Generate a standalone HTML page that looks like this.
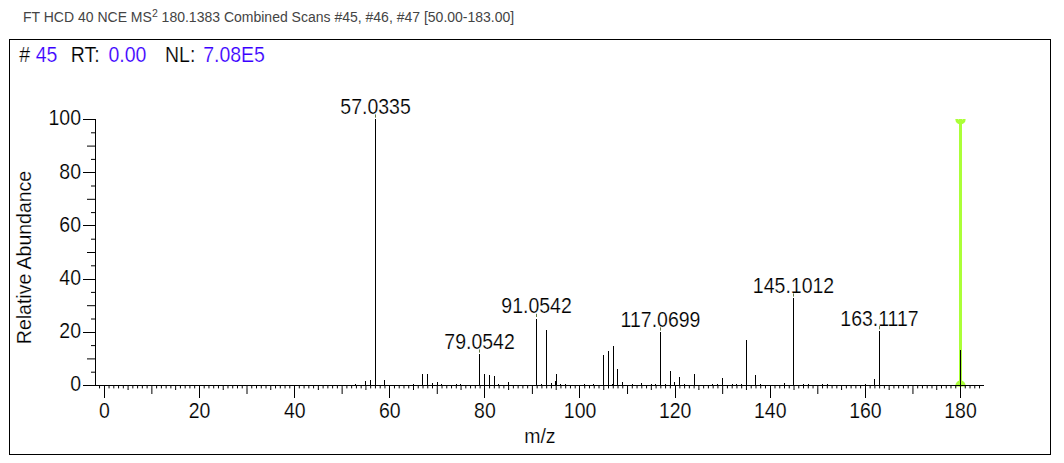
<!DOCTYPE html>
<html><head><meta charset="utf-8"><title>Spectrum</title>
<style>
html,body{margin:0;padding:0;background:#fff;}
body{width:1064px;height:463px;overflow:hidden;position:relative;font-family:"Liberation Sans",sans-serif;}
#title{position:absolute;left:23px;top:7px;font-size:14px;line-height:20px;color:#444;white-space:nowrap;}
#title sup{font-size:10.5px;line-height:0;vertical-align:baseline;position:relative;top:-5.5px;}
svg{position:absolute;left:0;top:0;}
svg text{font-family:"Liberation Sans",sans-serif;font-size:19.5px;fill:#000;stroke:#fff;stroke-width:0.18px;}
.b{fill:#3a00ff;}
</style></head><body>
<div id="title">FT HCD 40 NCE MS<sup>2</sup> 180.1383 Combined Scans #45, #46, #47 [50.00-183.00]</div>
<svg width="1064" height="463" viewBox="0 0 1064 463">

<rect x="9.5" y="39.5" width="1041" height="415" fill="none" stroke="#000" stroke-width="1" shape-rendering="crispEdges"/>
<text transform="translate(19.2,61.5) scale(1,1.085)" xml:space="preserve"># <tspan class="b" dx="0.3">45</tspan>  <tspan dx="2.5">RT:</tspan> <tspan class="b" dx="3.4">0.00</tspan>   <tspan dx="2.4">NL:</tspan> <tspan class="b" dx="2.4">7.08E5</tspan></text>
<clipPath id="pc"><rect x="90" y="119" width="900" height="267.4"/></clipPath>
<g clip-path="url(#pc)" fill="#abff38"><rect x="959" y="119" width="3" height="268"/><circle cx="960.5" cy="119.5" r="5.1"/><circle cx="960.5" cy="385.5" r="5.1"/></g>
<rect x="958" y="119" width="1" height="1" fill="#fff" opacity="0.35"/><rect x="962" y="119" width="1" height="1" fill="#fff" opacity="0.35"/>
<g fill="#000" shape-rendering="crispEdges">
<rect x="95" y="119" width="1" height="267"/>
<rect x="95" y="385" width="889" height="1"/>
</g><g stroke="#000" stroke-width="1">
<line x1="83" y1="385.50" x2="95" y2="385.50"/>
<line x1="91" y1="372.20" x2="95" y2="372.20"/>
<line x1="87" y1="358.90" x2="95" y2="358.90"/>
<line x1="91" y1="345.60" x2="95" y2="345.60"/>
<line x1="83" y1="332.50" x2="95" y2="332.50"/>
<line x1="91" y1="319.00" x2="95" y2="319.00"/>
<line x1="87" y1="305.70" x2="95" y2="305.70"/>
<line x1="91" y1="292.40" x2="95" y2="292.40"/>
<line x1="83" y1="279.50" x2="95" y2="279.50"/>
<line x1="91" y1="265.80" x2="95" y2="265.80"/>
<line x1="87" y1="252.50" x2="95" y2="252.50"/>
<line x1="91" y1="239.20" x2="95" y2="239.20"/>
<line x1="83" y1="225.50" x2="95" y2="225.50"/>
<line x1="91" y1="212.60" x2="95" y2="212.60"/>
<line x1="87" y1="199.30" x2="95" y2="199.30"/>
<line x1="91" y1="186.00" x2="95" y2="186.00"/>
<line x1="83" y1="172.50" x2="95" y2="172.50"/>
<line x1="91" y1="159.40" x2="95" y2="159.40"/>
<line x1="87" y1="146.10" x2="95" y2="146.10"/>
<line x1="91" y1="132.80" x2="95" y2="132.80"/>
<line x1="83" y1="119.50" x2="95" y2="119.50"/>
<line x1="99.54" y1="386" x2="99.54" y2="388.4"/>
<line x1="104.50" y1="386" x2="104.50" y2="398.0"/>
<line x1="109.06" y1="386" x2="109.06" y2="388.4"/>
<line x1="113.81" y1="386" x2="113.81" y2="388.4"/>
<line x1="118.57" y1="386" x2="118.57" y2="388.4"/>
<line x1="123.33" y1="386" x2="123.33" y2="388.4"/>
<line x1="128.08" y1="386" x2="128.08" y2="390.0"/>
<line x1="132.84" y1="386" x2="132.84" y2="388.4"/>
<line x1="137.60" y1="386" x2="137.60" y2="388.4"/>
<line x1="142.35" y1="386" x2="142.35" y2="388.4"/>
<line x1="147.11" y1="386" x2="147.11" y2="388.4"/>
<line x1="151.87" y1="386" x2="151.87" y2="394.0"/>
<line x1="156.62" y1="386" x2="156.62" y2="388.4"/>
<line x1="161.38" y1="386" x2="161.38" y2="388.4"/>
<line x1="166.14" y1="386" x2="166.14" y2="388.4"/>
<line x1="170.89" y1="386" x2="170.89" y2="388.4"/>
<line x1="175.65" y1="386" x2="175.65" y2="390.0"/>
<line x1="180.41" y1="386" x2="180.41" y2="388.4"/>
<line x1="185.16" y1="386" x2="185.16" y2="388.4"/>
<line x1="189.92" y1="386" x2="189.92" y2="388.4"/>
<line x1="194.68" y1="386" x2="194.68" y2="388.4"/>
<line x1="199.50" y1="386" x2="199.50" y2="398.0"/>
<line x1="204.19" y1="386" x2="204.19" y2="388.4"/>
<line x1="208.95" y1="386" x2="208.95" y2="388.4"/>
<line x1="213.70" y1="386" x2="213.70" y2="388.4"/>
<line x1="218.46" y1="386" x2="218.46" y2="388.4"/>
<line x1="223.22" y1="386" x2="223.22" y2="390.0"/>
<line x1="227.97" y1="386" x2="227.97" y2="388.4"/>
<line x1="232.73" y1="386" x2="232.73" y2="388.4"/>
<line x1="237.49" y1="386" x2="237.49" y2="388.4"/>
<line x1="242.24" y1="386" x2="242.24" y2="388.4"/>
<line x1="247.00" y1="386" x2="247.00" y2="394.0"/>
<line x1="251.76" y1="386" x2="251.76" y2="388.4"/>
<line x1="256.51" y1="386" x2="256.51" y2="388.4"/>
<line x1="261.27" y1="386" x2="261.27" y2="388.4"/>
<line x1="266.03" y1="386" x2="266.03" y2="388.4"/>
<line x1="270.78" y1="386" x2="270.78" y2="390.0"/>
<line x1="275.54" y1="386" x2="275.54" y2="388.4"/>
<line x1="280.30" y1="386" x2="280.30" y2="388.4"/>
<line x1="285.05" y1="386" x2="285.05" y2="388.4"/>
<line x1="289.81" y1="386" x2="289.81" y2="388.4"/>
<line x1="294.50" y1="386" x2="294.50" y2="398.0"/>
<line x1="299.32" y1="386" x2="299.32" y2="388.4"/>
<line x1="304.08" y1="386" x2="304.08" y2="388.4"/>
<line x1="308.84" y1="386" x2="308.84" y2="388.4"/>
<line x1="313.59" y1="386" x2="313.59" y2="388.4"/>
<line x1="318.35" y1="386" x2="318.35" y2="390.0"/>
<line x1="323.11" y1="386" x2="323.11" y2="388.4"/>
<line x1="327.86" y1="386" x2="327.86" y2="388.4"/>
<line x1="332.62" y1="386" x2="332.62" y2="388.4"/>
<line x1="337.38" y1="386" x2="337.38" y2="388.4"/>
<line x1="342.13" y1="386" x2="342.13" y2="394.0"/>
<line x1="346.89" y1="386" x2="346.89" y2="388.4"/>
<line x1="351.65" y1="386" x2="351.65" y2="388.4"/>
<line x1="356.41" y1="386" x2="356.41" y2="388.4"/>
<line x1="361.16" y1="386" x2="361.16" y2="388.4"/>
<line x1="365.92" y1="386" x2="365.92" y2="390.0"/>
<line x1="370.68" y1="386" x2="370.68" y2="388.4"/>
<line x1="375.43" y1="386" x2="375.43" y2="388.4"/>
<line x1="380.19" y1="386" x2="380.19" y2="388.4"/>
<line x1="384.95" y1="386" x2="384.95" y2="388.4"/>
<line x1="389.50" y1="386" x2="389.50" y2="398.0"/>
<line x1="394.46" y1="386" x2="394.46" y2="388.4"/>
<line x1="399.22" y1="386" x2="399.22" y2="388.4"/>
<line x1="403.97" y1="386" x2="403.97" y2="388.4"/>
<line x1="408.73" y1="386" x2="408.73" y2="388.4"/>
<line x1="413.49" y1="386" x2="413.49" y2="390.0"/>
<line x1="418.24" y1="386" x2="418.24" y2="388.4"/>
<line x1="423.00" y1="386" x2="423.00" y2="388.4"/>
<line x1="427.76" y1="386" x2="427.76" y2="388.4"/>
<line x1="432.51" y1="386" x2="432.51" y2="388.4"/>
<line x1="437.27" y1="386" x2="437.27" y2="394.0"/>
<line x1="442.03" y1="386" x2="442.03" y2="388.4"/>
<line x1="446.78" y1="386" x2="446.78" y2="388.4"/>
<line x1="451.54" y1="386" x2="451.54" y2="388.4"/>
<line x1="456.30" y1="386" x2="456.30" y2="388.4"/>
<line x1="461.05" y1="386" x2="461.05" y2="390.0"/>
<line x1="465.81" y1="386" x2="465.81" y2="388.4"/>
<line x1="470.57" y1="386" x2="470.57" y2="388.4"/>
<line x1="475.32" y1="386" x2="475.32" y2="388.4"/>
<line x1="480.08" y1="386" x2="480.08" y2="388.4"/>
<line x1="484.50" y1="386" x2="484.50" y2="398.0"/>
<line x1="489.59" y1="386" x2="489.59" y2="388.4"/>
<line x1="494.35" y1="386" x2="494.35" y2="388.4"/>
<line x1="499.11" y1="386" x2="499.11" y2="388.4"/>
<line x1="503.86" y1="386" x2="503.86" y2="388.4"/>
<line x1="508.62" y1="386" x2="508.62" y2="390.0"/>
<line x1="513.38" y1="386" x2="513.38" y2="388.4"/>
<line x1="518.13" y1="386" x2="518.13" y2="388.4"/>
<line x1="522.89" y1="386" x2="522.89" y2="388.4"/>
<line x1="527.65" y1="386" x2="527.65" y2="388.4"/>
<line x1="532.40" y1="386" x2="532.40" y2="394.0"/>
<line x1="537.16" y1="386" x2="537.16" y2="388.4"/>
<line x1="541.92" y1="386" x2="541.92" y2="388.4"/>
<line x1="546.67" y1="386" x2="546.67" y2="388.4"/>
<line x1="551.43" y1="386" x2="551.43" y2="388.4"/>
<line x1="556.19" y1="386" x2="556.19" y2="390.0"/>
<line x1="560.94" y1="386" x2="560.94" y2="388.4"/>
<line x1="565.70" y1="386" x2="565.70" y2="388.4"/>
<line x1="570.46" y1="386" x2="570.46" y2="388.4"/>
<line x1="575.21" y1="386" x2="575.21" y2="388.4"/>
<line x1="579.50" y1="386" x2="579.50" y2="398.0"/>
<line x1="584.73" y1="386" x2="584.73" y2="388.4"/>
<line x1="589.48" y1="386" x2="589.48" y2="388.4"/>
<line x1="594.24" y1="386" x2="594.24" y2="388.4"/>
<line x1="599.00" y1="386" x2="599.00" y2="388.4"/>
<line x1="603.75" y1="386" x2="603.75" y2="390.0"/>
<line x1="608.51" y1="386" x2="608.51" y2="388.4"/>
<line x1="613.27" y1="386" x2="613.27" y2="388.4"/>
<line x1="618.02" y1="386" x2="618.02" y2="388.4"/>
<line x1="622.78" y1="386" x2="622.78" y2="388.4"/>
<line x1="627.54" y1="386" x2="627.54" y2="394.0"/>
<line x1="632.29" y1="386" x2="632.29" y2="388.4"/>
<line x1="637.05" y1="386" x2="637.05" y2="388.4"/>
<line x1="641.81" y1="386" x2="641.81" y2="388.4"/>
<line x1="646.56" y1="386" x2="646.56" y2="388.4"/>
<line x1="651.32" y1="386" x2="651.32" y2="390.0"/>
<line x1="656.08" y1="386" x2="656.08" y2="388.4"/>
<line x1="660.83" y1="386" x2="660.83" y2="388.4"/>
<line x1="665.59" y1="386" x2="665.59" y2="388.4"/>
<line x1="670.35" y1="386" x2="670.35" y2="388.4"/>
<line x1="675.50" y1="386" x2="675.50" y2="398.0"/>
<line x1="679.86" y1="386" x2="679.86" y2="388.4"/>
<line x1="684.62" y1="386" x2="684.62" y2="388.4"/>
<line x1="689.37" y1="386" x2="689.37" y2="388.4"/>
<line x1="694.13" y1="386" x2="694.13" y2="388.4"/>
<line x1="698.89" y1="386" x2="698.89" y2="390.0"/>
<line x1="703.64" y1="386" x2="703.64" y2="388.4"/>
<line x1="708.40" y1="386" x2="708.40" y2="388.4"/>
<line x1="713.16" y1="386" x2="713.16" y2="388.4"/>
<line x1="717.91" y1="386" x2="717.91" y2="388.4"/>
<line x1="722.67" y1="386" x2="722.67" y2="394.0"/>
<line x1="727.43" y1="386" x2="727.43" y2="388.4"/>
<line x1="732.18" y1="386" x2="732.18" y2="388.4"/>
<line x1="736.94" y1="386" x2="736.94" y2="388.4"/>
<line x1="741.70" y1="386" x2="741.70" y2="388.4"/>
<line x1="746.45" y1="386" x2="746.45" y2="390.0"/>
<line x1="751.21" y1="386" x2="751.21" y2="388.4"/>
<line x1="755.97" y1="386" x2="755.97" y2="388.4"/>
<line x1="760.72" y1="386" x2="760.72" y2="388.4"/>
<line x1="765.48" y1="386" x2="765.48" y2="388.4"/>
<line x1="770.50" y1="386" x2="770.50" y2="398.0"/>
<line x1="774.99" y1="386" x2="774.99" y2="388.4"/>
<line x1="779.75" y1="386" x2="779.75" y2="388.4"/>
<line x1="784.51" y1="386" x2="784.51" y2="388.4"/>
<line x1="789.26" y1="386" x2="789.26" y2="388.4"/>
<line x1="794.02" y1="386" x2="794.02" y2="390.0"/>
<line x1="798.78" y1="386" x2="798.78" y2="388.4"/>
<line x1="803.53" y1="386" x2="803.53" y2="388.4"/>
<line x1="808.29" y1="386" x2="808.29" y2="388.4"/>
<line x1="813.05" y1="386" x2="813.05" y2="388.4"/>
<line x1="817.81" y1="386" x2="817.81" y2="394.0"/>
<line x1="822.56" y1="386" x2="822.56" y2="388.4"/>
<line x1="827.32" y1="386" x2="827.32" y2="388.4"/>
<line x1="832.08" y1="386" x2="832.08" y2="388.4"/>
<line x1="836.83" y1="386" x2="836.83" y2="388.4"/>
<line x1="841.59" y1="386" x2="841.59" y2="390.0"/>
<line x1="846.35" y1="386" x2="846.35" y2="388.4"/>
<line x1="851.10" y1="386" x2="851.10" y2="388.4"/>
<line x1="855.86" y1="386" x2="855.86" y2="388.4"/>
<line x1="860.62" y1="386" x2="860.62" y2="388.4"/>
<line x1="865.50" y1="386" x2="865.50" y2="398.0"/>
<line x1="870.13" y1="386" x2="870.13" y2="388.4"/>
<line x1="874.89" y1="386" x2="874.89" y2="388.4"/>
<line x1="879.64" y1="386" x2="879.64" y2="388.4"/>
<line x1="884.40" y1="386" x2="884.40" y2="388.4"/>
<line x1="889.16" y1="386" x2="889.16" y2="390.0"/>
<line x1="893.91" y1="386" x2="893.91" y2="388.4"/>
<line x1="898.67" y1="386" x2="898.67" y2="388.4"/>
<line x1="903.43" y1="386" x2="903.43" y2="388.4"/>
<line x1="908.18" y1="386" x2="908.18" y2="388.4"/>
<line x1="912.94" y1="386" x2="912.94" y2="394.0"/>
<line x1="917.70" y1="386" x2="917.70" y2="388.4"/>
<line x1="922.45" y1="386" x2="922.45" y2="388.4"/>
<line x1="927.21" y1="386" x2="927.21" y2="388.4"/>
<line x1="931.97" y1="386" x2="931.97" y2="388.4"/>
<line x1="936.72" y1="386" x2="936.72" y2="390.0"/>
<line x1="941.48" y1="386" x2="941.48" y2="388.4"/>
<line x1="946.24" y1="386" x2="946.24" y2="388.4"/>
<line x1="950.99" y1="386" x2="950.99" y2="388.4"/>
<line x1="955.75" y1="386" x2="955.75" y2="388.4"/>
<line x1="960.50" y1="386" x2="960.50" y2="398.0"/>
<line x1="965.26" y1="386" x2="965.26" y2="388.4"/>
<line x1="970.02" y1="386" x2="970.02" y2="388.4"/>
<line x1="974.78" y1="386" x2="974.78" y2="388.4"/>
<line x1="979.53" y1="386" x2="979.53" y2="388.4"/>
</g><g fill="#000" shape-rendering="crispEdges">
<rect x="355" y="384" width="1" height="1"/>
<rect x="365" y="381" width="1" height="4"/>
<rect x="370" y="380" width="1" height="5"/>
<rect x="375" y="119" width="1" height="266"/>
<rect x="384" y="380" width="1" height="5"/>
<rect x="413" y="384" width="1" height="1"/>
<rect x="422" y="374" width="1" height="11"/>
<rect x="427" y="374" width="1" height="11"/>
<rect x="432" y="383" width="1" height="2"/>
<rect x="437" y="382" width="1" height="3"/>
<rect x="441" y="384" width="1" height="1"/>
<rect x="456" y="384" width="1" height="1"/>
<rect x="460" y="384" width="1" height="1"/>
<rect x="479" y="354" width="1" height="31"/>
<rect x="484" y="374" width="1" height="11"/>
<rect x="489" y="375" width="1" height="10"/>
<rect x="494" y="376" width="1" height="9"/>
<rect x="498" y="384" width="1" height="1"/>
<rect x="508" y="382" width="1" height="3"/>
<rect x="536" y="319" width="1" height="66"/>
<rect x="541" y="384" width="1" height="1"/>
<rect x="546" y="330" width="1" height="55"/>
<rect x="551" y="383" width="1" height="2"/>
<rect x="555" y="381" width="1" height="4"/>
<rect x="556" y="374" width="1" height="11"/>
<rect x="560" y="384" width="1" height="1"/>
<rect x="565" y="384" width="1" height="1"/>
<rect x="584" y="384" width="1" height="1"/>
<rect x="593" y="384" width="1" height="1"/>
<rect x="603" y="355" width="1" height="30"/>
<rect x="608" y="351" width="1" height="34"/>
<rect x="612" y="384" width="1" height="1"/>
<rect x="613" y="346" width="1" height="39"/>
<rect x="617" y="369" width="1" height="16"/>
<rect x="622" y="382" width="1" height="3"/>
<rect x="632" y="384" width="1" height="1"/>
<rect x="641" y="383" width="1" height="2"/>
<rect x="651" y="384" width="1" height="1"/>
<rect x="655" y="384" width="1" height="1"/>
<rect x="660" y="332" width="1" height="53"/>
<rect x="665" y="384" width="1" height="1"/>
<rect x="670" y="371" width="1" height="14"/>
<rect x="674" y="382" width="1" height="3"/>
<rect x="679" y="377" width="1" height="8"/>
<rect x="684" y="384" width="1" height="1"/>
<rect x="694" y="374" width="1" height="11"/>
<rect x="712" y="384" width="1" height="1"/>
<rect x="717" y="384" width="1" height="1"/>
<rect x="722" y="378" width="1" height="7"/>
<rect x="732" y="384" width="1" height="1"/>
<rect x="736" y="384" width="1" height="1"/>
<rect x="741" y="384" width="1" height="1"/>
<rect x="746" y="340" width="1" height="45"/>
<rect x="755" y="375" width="1" height="10"/>
<rect x="760" y="384" width="1" height="1"/>
<rect x="784" y="383" width="1" height="2"/>
<rect x="793" y="298" width="1" height="87"/>
<rect x="803" y="384" width="1" height="1"/>
<rect x="808" y="384" width="1" height="1"/>
<rect x="822" y="384" width="1" height="1"/>
<rect x="827" y="384" width="1" height="1"/>
<rect x="865" y="384" width="1" height="1"/>
<rect x="874" y="379" width="1" height="6"/>
<rect x="879" y="331" width="1" height="54"/>
<rect x="960" y="350" width="1" height="35"/>
</g>
<rect x="375.0" y="114.4" width="1" height="3.2" fill="#556b2f" opacity="0.9"/>
<text transform="translate(375.50,114.00) scale(1,1.085)" text-anchor="middle">57.0335</text>
<rect x="479.0" y="349.4" width="1" height="3.2" fill="#556b2f" opacity="0.9"/>
<text transform="translate(479.50,349.00) scale(1,1.085)" text-anchor="middle">79.0542</text>
<rect x="536.0" y="313.8" width="1" height="3.2" fill="#556b2f" opacity="0.9"/>
<text transform="translate(536.50,313.40) scale(1,1.085)" text-anchor="middle">91.0542</text>
<rect x="660.0" y="327.4" width="1" height="3.2" fill="#556b2f" opacity="0.9"/>
<text transform="translate(660.50,327.00) scale(1,1.085)" text-anchor="middle">117.0699</text>
<rect x="793.0" y="293.4" width="1" height="3.2" fill="#556b2f" opacity="0.9"/>
<text transform="translate(793.50,293.00) scale(1,1.085)" text-anchor="middle">145.1012</text>
<rect x="879.0" y="326.1" width="1" height="3.2" fill="#556b2f" opacity="0.9"/>
<text transform="translate(879.50,325.70) scale(1,1.085)" text-anchor="middle">163.1117</text>
<text transform="translate(81.00,391.30) scale(1,1.085)" text-anchor="end">0</text>
<text transform="translate(81.00,338.10) scale(1,1.085)" text-anchor="end">20</text>
<text transform="translate(81.00,284.90) scale(1,1.085)" text-anchor="end">40</text>
<text transform="translate(81.00,231.70) scale(1,1.085)" text-anchor="end">60</text>
<text transform="translate(81.00,178.50) scale(1,1.085)" text-anchor="end">80</text>
<text transform="translate(81.00,125.30) scale(1,1.085)" text-anchor="end">100</text>
<text transform="translate(104.50,418.00) scale(1,1.085)" text-anchor="middle">0</text>
<text transform="translate(199.61,418.00) scale(1,1.085)" text-anchor="middle">20</text>
<text transform="translate(294.72,418.00) scale(1,1.085)" text-anchor="middle">40</text>
<text transform="translate(389.84,418.00) scale(1,1.085)" text-anchor="middle">60</text>
<text transform="translate(484.95,418.00) scale(1,1.085)" text-anchor="middle">80</text>
<text transform="translate(580.06,418.00) scale(1,1.085)" text-anchor="middle">100</text>
<text transform="translate(675.17,418.00) scale(1,1.085)" text-anchor="middle">120</text>
<text transform="translate(770.28,418.00) scale(1,1.085)" text-anchor="middle">140</text>
<text transform="translate(865.40,418.00) scale(1,1.085)" text-anchor="middle">160</text>
<text transform="translate(960.51,418.00) scale(1,1.085)" text-anchor="middle">180</text>
<text x="539.9" y="443" text-anchor="middle">m/z</text>
<text transform="translate(30.6,257.5) rotate(-90) scale(1,1.02)" text-anchor="middle">Relative Abundance</text>
</svg></body></html>
